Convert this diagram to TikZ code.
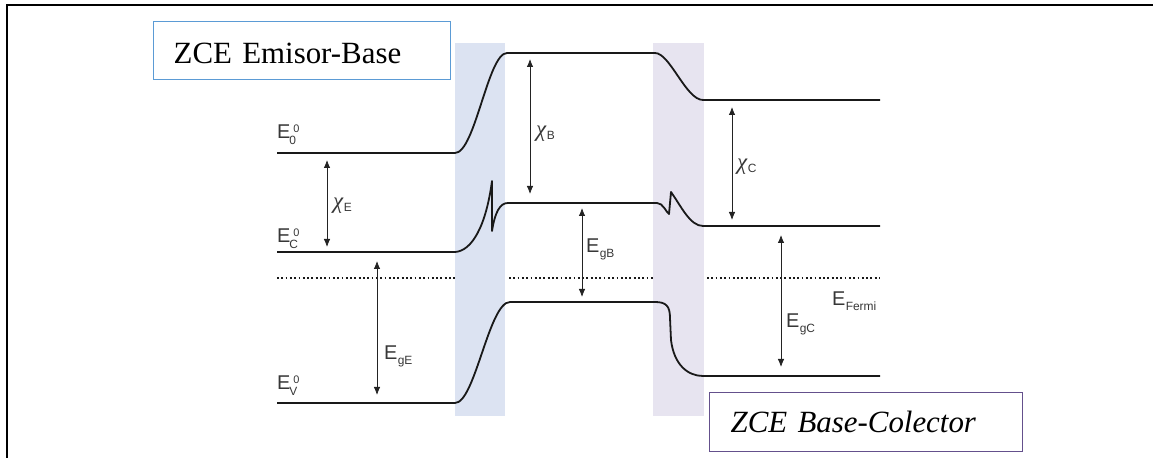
\documentclass[tikz,border=0pt]{standalone}
\usepackage{fontspec}
\setmainfont{Liberation Serif}
\newfontfamily\lab{Liberation Sans}
\newfontfamily\chifont{Liberation Serif}
\usetikzlibrary{arrows.meta}
\definecolor{bandA}{RGB}{220,227,242}
\definecolor{bandB}{RGB}{231,228,240}
\definecolor{boxblue}{RGB}{91,155,213}
\definecolor{boxpurple}{RGB}{100,80,140}
\definecolor{lblcol}{RGB}{55,55,55}
\definecolor{lvlcol}{RGB}{25,25,25}
\definecolor{dimcol}{RGB}{35,35,35}
\newcommand{\lsz}{\fontsize{20}{20}\selectfont}
\newcommand{\ssz}{\fontsize{12}{12}\selectfont}
\newcommand{\Esubsup}[2]{E\makebox[0pt][l]{\hspace{-1bp}\raisebox{-6bp}{\ssz #1}}\hspace{3bp}\raisebox{6bp}{\fontsize{11}{11}\selectfont #2}}
\newcommand{\Esub}[1]{E\hspace{0.3bp}\raisebox{-4.5bp}{\ssz #1}}
\newcommand{\Chisub}[1]{{\chifont\itshape\fontsize{23}{23}\selectfont χ}\hspace{0.5bp}\raisebox{-3bp}{\ssz #1}}
\tikzset{
  level/.style={draw=lvlcol, line width=1.8bp, line join=round},
  fermi/.style={draw=lvlcol, line width=1.8bp, dash pattern=on 1.8bp off 2.5bp},
  dim/.style={draw=dimcol, line width=0.8bp, {Latex[length=8bp,width=6.5bp]}-{Latex[length=8bp,width=6.5bp]}},
  lbl/.style={anchor=base west, inner sep=0pt, text=lblcol, font=\lab\lsz},
  zbox/.style={anchor=north west, line width=1.3bp, align=left, text depth=0bp}
}
\begin{document}
\begin{tikzpicture}[x=1bp,y=-1bp]
\useasboundingbox (0,0) rectangle (1153,458);
% junction bands
\fill[bandA] (455,43) rectangle (505,416);
\fill[bandB] (653,43) rectangle (704,416);
% frame
\draw[line width=2.5bp] (7,458) -- (7,5) -- (1153,5);
% vacuum level
\draw[level] (277,153) -- (455,153) .. controls (475,153) and (488,53) .. (507,53) -- (655,53) .. controls (670,53) and (686,100) .. (703,100) -- (880,100);
% conduction band
\draw[level] (277,252) -- (455,252) .. controls (472,251) and (486,226) .. (492,181) -- (492,231) .. controls (495,212) and (500,203) .. (508,203) -- (657,203) .. controls (663,203) and (666,212) .. (669,214) -- (671,192) .. controls (681,206) and (690,226) .. (703,226) -- (880,226);
% valence band
\draw[level] (277,403) -- (455,403) .. controls (475,403) and (489,302) .. (510,302) -- (655,302) .. controls (666,302) and (670,306) .. (670,318) -- (671,340) .. controls (674,365) and (688,376) .. (703,376) -- (880,376);
% Fermi level
\draw[fermi] (277,278) -- (455,278);
\draw[fermi] (509,278) -- (653,278);
\draw[fermi] (707,278) -- (880,278);
% dimension arrows
\coordinate (xeT) at (327,160); \coordinate (xeB) at (327,247);
\coordinate (xbT) at (530,59);  \coordinate (xbB) at (530,194);
\coordinate (xcT) at (732,107); \coordinate (xcB) at (732,220);
\coordinate (geT) at (377,261); \coordinate (geB) at (377,395);
\coordinate (gbT) at (582,208); \coordinate (gbB) at (582,297);
\coordinate (gcT) at (781,235); \coordinate (gcB) at (781,367);
\draw[dim] (xeT) -- (xeB);
\draw[dim] (xbT) -- (xbB);
\draw[dim] (xcT) -- (xcB);
\draw[dim] (geT) -- (geB);
\draw[dim] (gbT) -- (gbB);
\draw[dim] (gcT) -- (gcB);
% labels
\node[lbl] (e0) at (277,139) {\Esubsup{0}{0}};
\node[lbl] (ec) at (277,243) {\Esubsup{C}{0}};
\node[lbl] (ev) at (277,390) {\Esubsup{V}{0}};
\node[lbl] (chiE) at (333,209) {\Chisub{E}};
\node[lbl] (chiB) at (536,137) {\Chisub{B}};
\node[lbl] (chiC) at (737,170) {\Chisub{C}};
\node[lbl] (egE) at (384,360) {\Esub{gE}};
\node[lbl] (egB) at (586,253) {\Esub{gB}};
\node[lbl] (egC) at (786,328) {\Esub{gC}};
\node[lbl] (ef) at (832,306) {\Esub{Fermi}};
% boxes
\node[zbox, draw=boxblue, fill=white, minimum width=297bp, minimum height=58bp, text width=257bp, inner xsep=20bp, text height=26bp, font=\fontsize{31}{31}\selectfont] (zeb) at (153,21) {ZCE Emisor-Base};
\node[zbox, draw=boxpurple, fill=white, minimum width=313bp, minimum height=59bp, text width=271bp, inner xsep=21bp, text height=21bp, font=\fontsize{31}{31}\selectfont\itshape] (zbc) at (709,392) {ZCE Base-Colector};
\end{tikzpicture}
\end{document}
